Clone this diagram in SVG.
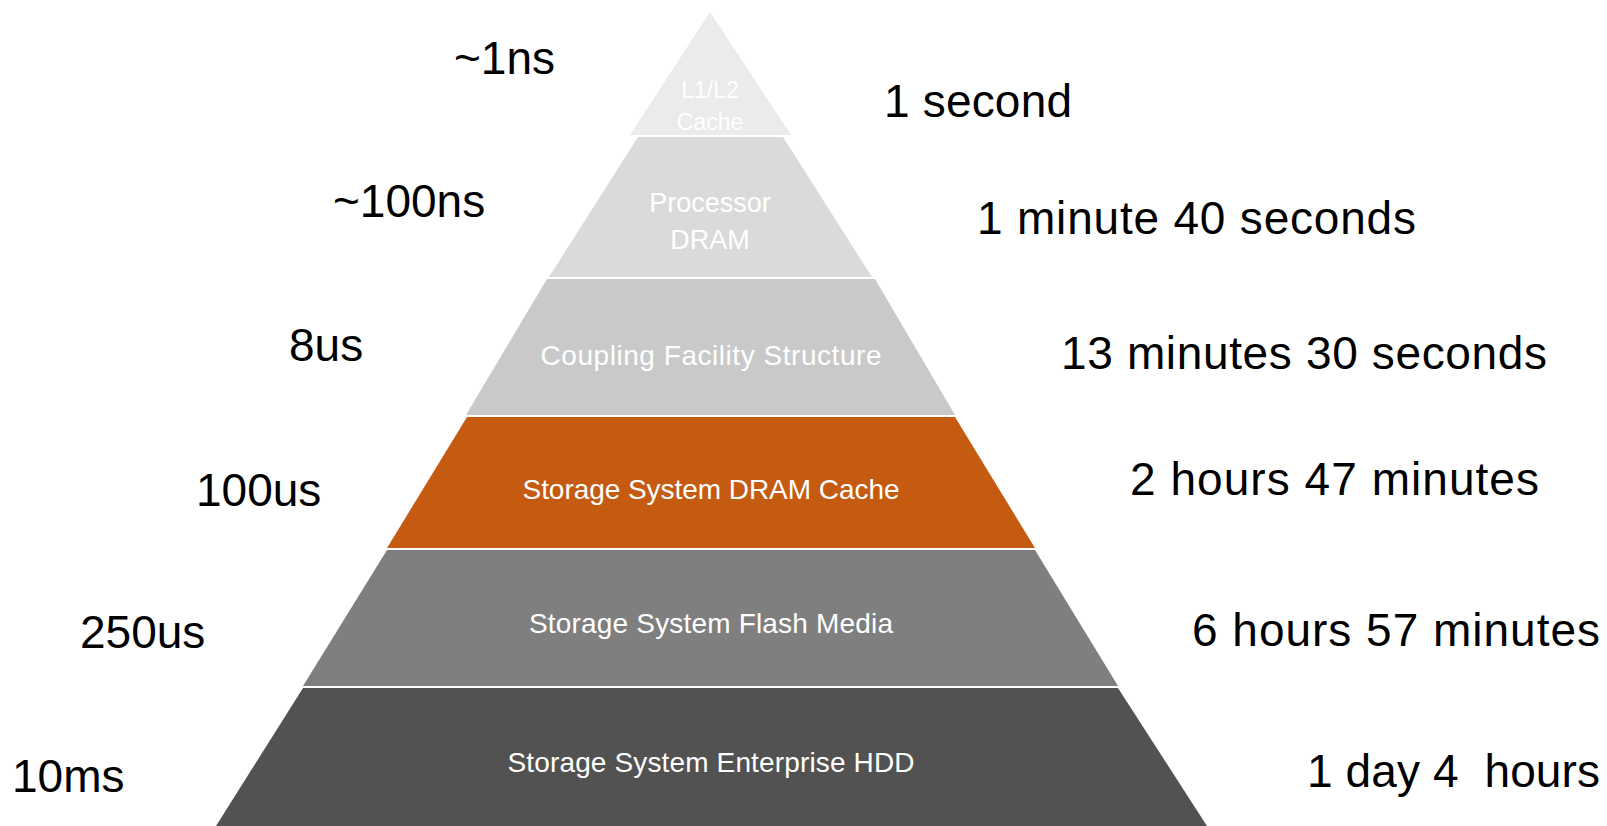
<svg xmlns="http://www.w3.org/2000/svg" width="1607" height="826" viewBox="0 0 1607 826">
  <style>
    .band-label { font-family: "Liberation Sans", Arial, sans-serif; font-size: 28px; fill: #FFFFFF; text-anchor: middle; }
    .big { font-family: "Liberation Sans", Arial, sans-serif; font-size: 46px; fill: #000000; white-space: pre; }
    .t1 { fill: #EBEBEB; }
    .t2 { fill: #DADADA; }
    .t3 { fill: #C9C9C9; }
    .t4 { fill: #C55A11; }
    .t5 { fill: #7F7F7F; }
    .t6 { fill: #525252; }
  </style>
  <rect x="0" y="0" width="1607" height="826" fill="#FFFFFF"/>

  <g id="tier-l1l2-cache">
    <polygon class="t1" points="710,12 630,135 791,135"/>
    <text class="band-label" x="710" y="98" style="font-size:23px">L1/L2</text>
    <text class="band-label" x="710" y="130" style="font-size:23px">Cache</text>
  </g>

  <g id="tier-processor-dram">
    <polygon class="t2" points="638,137 783,137 872,277 549,277"/>
    <text class="band-label" x="710" y="212" style="font-size:27px">Processor</text>
    <text class="band-label" x="710" y="249" style="font-size:27px">DRAM</text>
  </g>

  <g id="tier-coupling-facility">
    <polygon class="t3" points="547,279 875,279 955,415 466,415"/>
    <text class="band-label" x="711" y="365" textLength="341">Coupling Facility Structure</text>
  </g>

  <g id="tier-storage-dram-cache">
    <polygon class="t4" points="467,417 955,417 1035,548 387,548"/>
    <text class="band-label" x="711" y="499" textLength="377">Storage System DRAM Cache</text>
  </g>

  <g id="tier-storage-flash">
    <polygon class="t5" points="387,550 1035,550 1118,686 303,686"/>
    <text class="band-label" x="711" y="633" textLength="364">Storage System Flash Media</text>
  </g>

  <g id="tier-storage-hdd">
    <polygon class="t6" points="303,688 1118,688 1207,826 216,826"/>
    <text class="band-label" x="711" y="772" textLength="407">Storage System Enterprise HDD</text>
  </g>

  <g id="latency-labels">
    <text class="big" x="454" y="74">~1ns</text>
    <text class="big" x="333" y="217">~100ns</text>
    <text class="big" x="289" y="361">8us</text>
    <text class="big" x="196" y="506">100us</text>
    <text class="big" x="80" y="648">250us</text>
    <text class="big" x="12" y="792">10ms</text>
  </g>

  <g id="scaled-time-labels">
    <text class="big" x="884" y="117" textLength="188">1 second</text>
    <text class="big" x="977" y="234" textLength="439">1 minute 40 seconds</text>
    <text class="big" x="1061" y="369" textLength="486">13 minutes 30 seconds</text>
    <text class="big" x="1130" y="495" textLength="409">2 hours 47 minutes</text>
    <text class="big" x="1192" y="646" textLength="408">6 hours 57 minutes</text>
    <text class="big" x="1307" y="787" textLength="293">1 day 4  hours</text>
  </g>
</svg>
